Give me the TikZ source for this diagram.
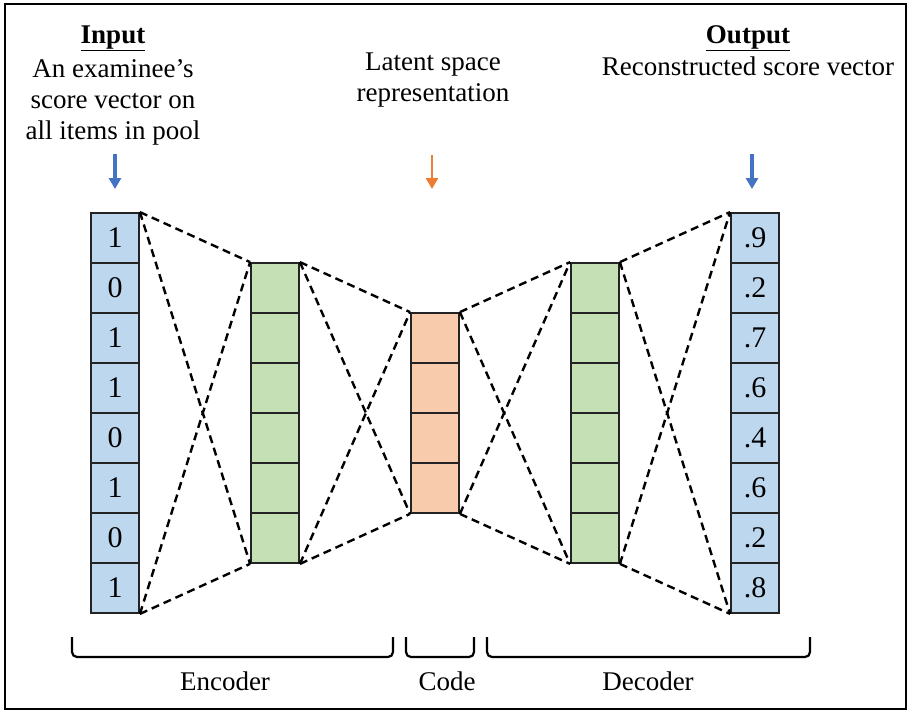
\documentclass[tikz,border=0pt]{standalone}
\usepackage{fontspec}
\setmainfont{Liberation Serif}
\usetikzlibrary{arrows.meta}
\definecolor{inblue}{RGB}{189,215,238}
\definecolor{hidgreen}{RGB}{197,224,180}
\definecolor{codeorange}{RGB}{248,203,173}
\definecolor{arrblue}{RGB}{68,114,196}
\definecolor{arrorange}{RGB}{237,125,49}
\definecolor{edge}{RGB}{35,35,35}
\tikzset{
  cell/.style={draw=edge, line width=1.8pt, minimum width=48pt, minimum height=50pt,
    inner sep=0pt, font=\fontsize{30}{32}\selectfont},
  incell/.style={cell, fill=inblue},
  hidcell/.style={cell, fill=hidgreen},
  codecell/.style={cell, fill=codeorange},
  link/.style={line width=2.4pt, dash pattern=on 8pt off 5pt, black},
  feed/.style={line width=3.4pt, -{Triangle[length=11pt,width=12pt]}},
  label/.style={anchor=base, inner sep=0pt, font=\fontsize{27}{30}\selectfont},
  bracket/.style={line width=2.2pt, rounded corners=5pt},
}
\begin{document}
\begin{tikzpicture}[x=1pt, y=-1pt]
\useasboundingbox (0,0) rectangle (910,712);
\draw[line width=1.8pt] (5,4) rectangle (906,709);

% input column
\foreach \v [count=\i] in {1,0,1,1,0,1,0,1}
  \node[incell] (in\i) at (115, 213+50*\i-25) {\v};
% first hidden layer
\foreach \i in {1,...,6}
  \node[hidcell] (ha\i) at (275, 263+50*\i-25) {};
% latent code
\foreach \i in {1,...,4}
  \node[codecell] (c\i) at (435, 313+50*\i-25) {};
% second hidden layer
\foreach \i in {1,...,6}
  \node[hidcell] (hb\i) at (595, 263+50*\i-25) {};
% output column
\foreach \v [count=\i] in {.9,.2,.7,.6,.4,.6,.2,.8}
  \node[incell] (out\i) at (755, 213+50*\i-25) {\v};

% dashed links between consecutive layers
\foreach \a/\an/\b/\bn in {in/8/ha/6, ha/6/c/4, c/4/hb/6, hb/6/out/8}{
  \draw[link] (\a1.north east) -- (\b1.north west);
  \draw[link] (\a1.north east) -- (\b\bn.south west);
  \draw[link] (\a\an.south east) -- (\b1.north west);
  \draw[link] (\a\an.south east) -- (\b\bn.south west);
}

% headings
\node[label] (inhead) at (113,43) {\underline{\textbf{Input}}};
\node[label] (inl1) at (113,77) {An examinee’s};
\node[label] (inl2) at (113,108) {score vector on};
\node[label] (inl3) at (113,139) {all items in pool};
\node[label] (lat1) at (433,70) {Latent space};
\node[label] (lat2) at (433,101) {representation};
\node[label] (outhead) at (748,43) {\underline{\textbf{Output}}};
\node[label] (outl1) at (748,75) {Reconstructed score vector};

% feed arrows
\coordinate (fa1) at (115,154); \coordinate (fb1) at (115,189);
\coordinate (fa2) at (432,155); \coordinate (fb2) at (432,189);
\coordinate (fa3) at (752,154); \coordinate (fb3) at (752,189);
\draw[feed, arrblue] (fa1) -- (fb1);
\draw[feed, arrorange, line width=2.6pt] (fa2) -- (fb2);
\draw[feed, arrblue] (fa3) -- (fb3);

% section brackets
\draw[bracket] (72,637) -- (72,657) -- (393,657) -- (393,637);
\draw[bracket] (406,637) -- (406,657) -- (474,657) -- (474,637);
\draw[bracket] (487,637) -- (487,657) -- (810,657) -- (810,637);
\node[label] (enc) at (225,690) {Encoder};
\node[label] (cod) at (447,690) {Code};
\node[label] (dec) at (648,690) {Decoder};
\end{tikzpicture}
\end{document}
